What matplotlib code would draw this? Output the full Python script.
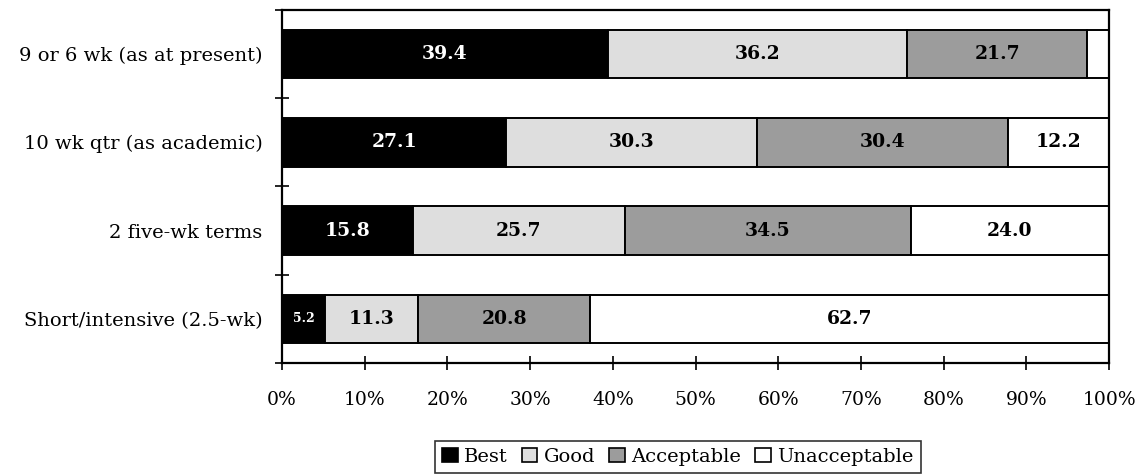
import matplotlib
matplotlib.use("Agg")
import matplotlib.pyplot as plt
from matplotlib.patches import Patch

# Preference ratings per term format (percent of respondents)
categories = [
    "9 or 6 wk (as at present)",
    "10 wk qtr (as academic)",
    "2 five-wk terms",
    "Short/intensive (2.5-wk)",
]
series_names = ["Best", "Good", "Acceptable", "Unacceptable"]
best = [39.4, 27.1, 15.8, 5.2]
good = [36.2, 30.3, 25.7, 11.3]
acceptable = [21.7, 30.4, 34.5, 20.8]
unacceptable = [2.7, 12.2, 24.0, 62.7]
x_ticks = [0, 10, 20, 30, 40, 50, 60, 70, 80, 90, 100]
x_tick_labels = ["0%", "10%", "20%", "30%", "40%", "50%", "60%", "70%", "80%", "90%", "100%"]

series = [best, good, acceptable, unacceptable]
fills = ["#000000", "#dedede", "#9c9c9c", "#ffffff"]
text_colors = ["white", "black", "black", "black"]

fig = plt.figure(figsize=(11.48, 4.75), dpi=100)
ax = fig.add_axes([0.2456, 0.2358, 0.7205, 0.7432])

n = len(categories)
ypos = [n - 1 - i for i in range(n)]
left = [0.0] * n
for vals, fc, tc in zip(series, fills, text_colors):
    ax.barh(ypos, vals, left=left, height=0.55, color=fc,
            edgecolor="black", linewidth=1.4)
    for y, l, v in zip(ypos, left, vals):
        if v < 3:
            continue
        size = 9 if v < 8 else 13.5
        ax.text(l + v / 2, y, f"{v:.1f}", ha="center", va="center",
                color=tc, fontsize=size, fontweight="bold", family="DejaVu Serif")
    left = [a + b for a, b in zip(left, vals)]

ax.set_xlim(0, 100)
ax.set_ylim(-0.5, n - 0.5)
ax.set_xticks(x_ticks)
ax.set_xticklabels(x_tick_labels, family="DejaVu Serif", fontsize=13.5)
ax.set_yticks(ypos)
ax.set_yticklabels(categories, family="DejaVu Serif", fontsize=14)
ax.tick_params(axis="y", length=0, pad=14)
ax.set_yticks([i + 0.5 for i in range(-1, n)], minor=True)
ax.tick_params(axis="y", which="minor", direction="inout", length=10, width=1.2)
ax.tick_params(axis="x", direction="inout", length=10, width=1.2, pad=15)
for s in ax.spines.values():
    s.set_linewidth(1.6)

handles = [Patch(facecolor=fc, edgecolor="black", linewidth=1.2) for fc in fills]
leg = fig.legend(handles, series_names, loc="upper center",
                 bbox_to_anchor=(0.5905, 0.072), ncol=4, frameon=True,
                 fancybox=False, edgecolor="black", handlelength=0.8,
                 handleheight=0.8, handletextpad=0.35, columnspacing=0.7,
                 borderpad=0.35, borderaxespad=0.0,
                 prop={"family": "DejaVu Serif", "size": 14})
leg.get_frame().set_linewidth(1.2)

fig.savefig("out.png", dpi=100)
